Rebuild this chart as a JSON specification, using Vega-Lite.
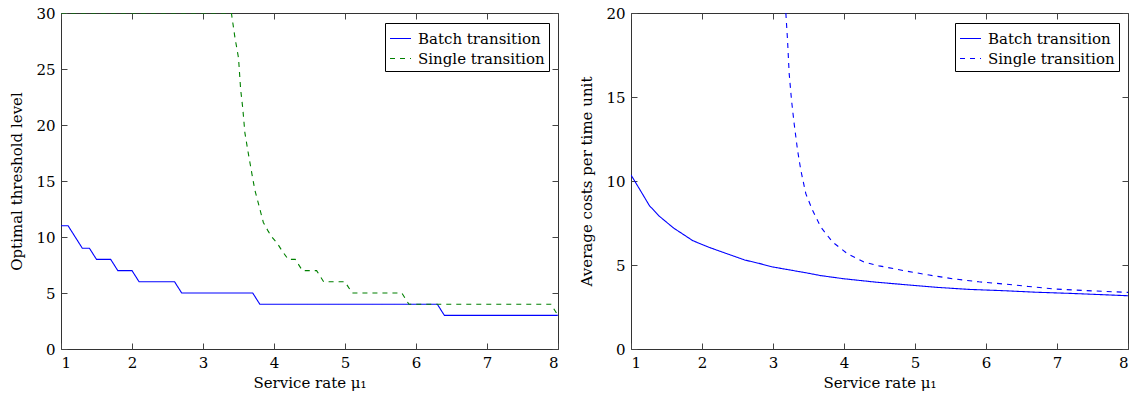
{
  "$schema": "https://vega.github.io/schema/vega-lite/v6.json",
  "padding": {"left": 9, "top": 5, "right": 2, "bottom": 0},
  "spacing": 20,
  "datasets": {
    "thr": [
      {"mu": 1.0, "level": 11, "series": "Batch transition"},
      {"mu": 1.1, "level": 11, "series": "Batch transition"},
      {"mu": 1.2, "level": 10, "series": "Batch transition"},
      {"mu": 1.3, "level": 9, "series": "Batch transition"},
      {"mu": 1.4, "level": 9, "series": "Batch transition"},
      {"mu": 1.5, "level": 8, "series": "Batch transition"},
      {"mu": 1.6, "level": 8, "series": "Batch transition"},
      {"mu": 1.7, "level": 8, "series": "Batch transition"},
      {"mu": 1.8, "level": 7, "series": "Batch transition"},
      {"mu": 1.9, "level": 7, "series": "Batch transition"},
      {"mu": 2.0, "level": 7, "series": "Batch transition"},
      {"mu": 2.1, "level": 6, "series": "Batch transition"},
      {"mu": 2.6, "level": 6, "series": "Batch transition"},
      {"mu": 2.7, "level": 5, "series": "Batch transition"},
      {"mu": 3.7, "level": 5, "series": "Batch transition"},
      {"mu": 3.8, "level": 4, "series": "Batch transition"},
      {"mu": 6.3, "level": 4, "series": "Batch transition"},
      {"mu": 6.4, "level": 3, "series": "Batch transition"},
      {"mu": 8.0, "level": 3, "series": "Batch transition"},
      {"mu": 1.0, "level": 30, "series": "Single transition"},
      {"mu": 3.4, "level": 30, "series": "Single transition"},
      {"mu": 3.45, "level": 27.8, "series": "Single transition"},
      {"mu": 3.5, "level": 26, "series": "Single transition"},
      {"mu": 3.53, "level": 23.2, "series": "Single transition"},
      {"mu": 3.56, "level": 21.5, "series": "Single transition"},
      {"mu": 3.59, "level": 19.3, "series": "Single transition"},
      {"mu": 3.64, "level": 17.4, "series": "Single transition"},
      {"mu": 3.69, "level": 15.6, "series": "Single transition"},
      {"mu": 3.73, "level": 14.2, "series": "Single transition"},
      {"mu": 3.78, "level": 13.0, "series": "Single transition"},
      {"mu": 3.85, "level": 11.3, "series": "Single transition"},
      {"mu": 3.92, "level": 10.5, "series": "Single transition"},
      {"mu": 3.97, "level": 10, "series": "Single transition"},
      {"mu": 4.05, "level": 9.4, "series": "Single transition"},
      {"mu": 4.11, "level": 8.8, "series": "Single transition"},
      {"mu": 4.2, "level": 8, "series": "Single transition"},
      {"mu": 4.3, "level": 8, "series": "Single transition"},
      {"mu": 4.4, "level": 7, "series": "Single transition"},
      {"mu": 4.6, "level": 7, "series": "Single transition"},
      {"mu": 4.7, "level": 6, "series": "Single transition"},
      {"mu": 5.0, "level": 6, "series": "Single transition"},
      {"mu": 5.1, "level": 5, "series": "Single transition"},
      {"mu": 5.8, "level": 5, "series": "Single transition"},
      {"mu": 5.9, "level": 4, "series": "Single transition"},
      {"mu": 7.9, "level": 4, "series": "Single transition"},
      {"mu": 8.0, "level": 3, "series": "Single transition"}
    ],
    "cost": [
      {"mu": 1.0, "cost": 10.36, "series": "Batch transition"},
      {"mu": 1.12, "cost": 9.52, "series": "Batch transition"},
      {"mu": 1.26, "cost": 8.53, "series": "Batch transition"},
      {"mu": 1.4, "cost": 7.9, "series": "Batch transition"},
      {"mu": 1.6, "cost": 7.2, "series": "Batch transition"},
      {"mu": 1.87, "cost": 6.45, "series": "Batch transition"},
      {"mu": 2.1, "cost": 6.05, "series": "Batch transition"},
      {"mu": 2.34, "cost": 5.69, "series": "Batch transition"},
      {"mu": 2.6, "cost": 5.3, "series": "Batch transition"},
      {"mu": 2.8, "cost": 5.1, "series": "Batch transition"},
      {"mu": 3.0, "cost": 4.88, "series": "Batch transition"},
      {"mu": 3.46, "cost": 4.54, "series": "Batch transition"},
      {"mu": 3.67, "cost": 4.37, "series": "Batch transition"},
      {"mu": 4.0, "cost": 4.18, "series": "Batch transition"},
      {"mu": 4.47, "cost": 3.97, "series": "Batch transition"},
      {"mu": 5.0, "cost": 3.78, "series": "Batch transition"},
      {"mu": 5.31, "cost": 3.67, "series": "Batch transition"},
      {"mu": 5.75, "cost": 3.55, "series": "Batch transition"},
      {"mu": 6.25, "cost": 3.47, "series": "Batch transition"},
      {"mu": 6.7, "cost": 3.38, "series": "Batch transition"},
      {"mu": 7.19, "cost": 3.31, "series": "Batch transition"},
      {"mu": 7.6, "cost": 3.24, "series": "Batch transition"},
      {"mu": 8.0, "cost": 3.17, "series": "Batch transition"},
      {"mu": 3.181, "cost": 20.0, "series": "Single transition"},
      {"mu": 3.205, "cost": 18.37, "series": "Single transition"},
      {"mu": 3.228, "cost": 16.39, "series": "Single transition"},
      {"mu": 3.261, "cost": 14.8, "series": "Single transition"},
      {"mu": 3.298, "cost": 13.41, "series": "Single transition"},
      {"mu": 3.346, "cost": 11.83, "series": "Single transition"},
      {"mu": 3.392, "cost": 10.64, "series": "Single transition"},
      {"mu": 3.462, "cost": 9.25, "series": "Single transition"},
      {"mu": 3.556, "cost": 8.26, "series": "Single transition"},
      {"mu": 3.673, "cost": 7.26, "series": "Single transition"},
      {"mu": 3.838, "cost": 6.37, "series": "Single transition"},
      {"mu": 4.049, "cost": 5.67, "series": "Single transition"},
      {"mu": 4.283, "cost": 5.18, "series": "Single transition"},
      {"mu": 4.494, "cost": 4.95, "series": "Single transition"},
      {"mu": 4.85, "cost": 4.66, "series": "Single transition"},
      {"mu": 5.2, "cost": 4.4, "series": "Single transition"},
      {"mu": 5.55, "cost": 4.17, "series": "Single transition"},
      {"mu": 5.9, "cost": 4.0, "series": "Single transition"},
      {"mu": 6.25, "cost": 3.87, "series": "Single transition"},
      {"mu": 6.6, "cost": 3.72, "series": "Single transition"},
      {"mu": 6.96, "cost": 3.57, "series": "Single transition"},
      {"mu": 7.5, "cost": 3.46, "series": "Single transition"},
      {"mu": 8.0, "cost": 3.37, "series": "Single transition"}
    ]
  },
  "hconcat": [
    {
      "width": 497,
      "height": 336,
      "data": {"name": "thr"},
      "layer": [
        {
          "mark": {"type": "line", "strokeWidth": 1.1, "clip": true},
          "encoding": {
            "x": {"field": "mu", "type": "quantitative", "scale": {"domain": [1, 8], "nice": false, "zero": false},
                  "axis": {"values": [1, 2, 3, 4, 5, 6, 7, 8], "title": "Service rate μ₁", "ticks": true, "tickSize": 6, "offset": -6, "tickColor": "#444"}},
            "y": {"field": "level", "type": "quantitative", "scale": {"domain": [0, 30], "nice": false},
                  "axis": {"values": [0, 5, 10, 15, 20, 25, 30], "title": "Optimal threshold level", "ticks": true, "tickSize": 6, "offset": -6, "tickColor": "#444"}},
            "color": {"field": "series", "type": "nominal",
                      "scale": {"domain": ["Batch transition", "Single transition"], "range": ["#0000ff", "#008000"]},
                      "legend": {"title": null}},
            "strokeDash": {"field": "series", "type": "nominal",
                      "scale": {"domain": ["Batch transition", "Single transition"], "range": [[1, 0], [5, 5]]},
                      "legend": {"title": null}}
          }
        },
        {
          "mark": {"type": "point", "opacity": 0, "size": 0},
          "encoding": {
            "x": {"field": "mu", "type": "quantitative", "axis": {"orient": "top", "values": [1, 2, 3, 4, 5, 6, 7, 8], "labels": false, "title": null, "ticks": true, "tickSize": 6, "offset": -6, "tickColor": "#444", "minExtent": 0, "maxExtent": 0, "labelPadding": 0}},
            "y": {"field": "level", "type": "quantitative", "axis": {"orient": "right", "values": [0, 5, 10, 15, 20, 25, 30], "labels": false, "title": null, "ticks": true, "tickSize": 6, "offset": -6, "tickColor": "#444", "minExtent": 0, "maxExtent": 0, "labelPadding": 0}}
          }
        }
      ],
      "resolve": {"axis": {"x": "independent", "y": "independent"}}
    },
    {
      "width": 497,
      "height": 336,
      "data": {"name": "cost"},
      "layer": [
        {
          "mark": {"type": "line", "strokeWidth": 1.1, "clip": true, "color": "#0000ff"},
          "encoding": {
            "x": {"field": "mu", "type": "quantitative", "scale": {"domain": [1, 8], "nice": false, "zero": false},
                  "axis": {"values": [1, 2, 3, 4, 5, 6, 7, 8], "title": "Service rate μ₁", "ticks": true, "tickSize": 6, "offset": -6, "tickColor": "#444"}},
            "y": {"field": "cost", "type": "quantitative", "scale": {"domain": [0, 20], "nice": false},
                  "axis": {"values": [0, 5, 10, 15, 20], "title": "Average costs per time unit", "ticks": true, "tickSize": 6, "offset": -6, "tickColor": "#444"}},
            "strokeDash": {"field": "series", "type": "nominal",
                      "scale": {"domain": ["Batch transition", "Single transition"], "range": [[1, 0], [5, 5]]},
                      "legend": {"title": null, "symbolStrokeColor": "#0000ff"}}
          }
        },
        {
          "mark": {"type": "point", "opacity": 0, "size": 0},
          "encoding": {
            "x": {"field": "mu", "type": "quantitative", "axis": {"orient": "top", "values": [1, 2, 3, 4, 5, 6, 7, 8], "labels": false, "title": null, "ticks": true, "tickSize": 6, "offset": -6, "tickColor": "#444", "minExtent": 0, "maxExtent": 0, "labelPadding": 0}},
            "y": {"field": "cost", "type": "quantitative", "axis": {"orient": "right", "values": [0, 5, 10, 15, 20], "labels": false, "title": null, "ticks": true, "tickSize": 6, "offset": -6, "tickColor": "#444", "minExtent": 0, "maxExtent": 0, "labelPadding": 0}}
          }
        }
      ],
      "resolve": {"axis": {"x": "independent", "y": "independent"}}
    }
  ],
  "resolve": {
    "scale": {"x": "independent", "y": "independent", "color": "independent", "strokeDash": "independent"},
    "legend": {"color": "independent", "strokeDash": "independent"}
  },
  "config": {
    "font": "DejaVu Serif",
    "view": {"stroke": "#333", "strokeWidth": 1},
    "axis": {
      "grid": false,
      "domain": false,
      "labelFont": "DejaVu Serif",
      "labelFontSize": 15,
      "labelColor": "#000",
      "titleFont": "DejaVu Serif",
      "titleFontSize": 15,
      "titleFontWeight": "normal",
      "titleColor": "#000",
      "tickWidth": 1,
      "labelPadding": 6,
      "titlePadding": 5
    },
    "axisY": {"titlePadding": 11},
    "legend": {
      "orient": "top-right",
      "offset": 9.5,
      "fillColor": "white",
      "strokeColor": "black",
      "padding": 4,
      "symbolType": "stroke",
      "symbolSize": 441,
      "symbolStrokeWidth": 1.1,
      "labelFont": "DejaVu Serif",
      "labelFontSize": 15,
      "labelColor": "#000",
      "labelOffset": 6,
      "rowPadding": 0
    }
  }
}
